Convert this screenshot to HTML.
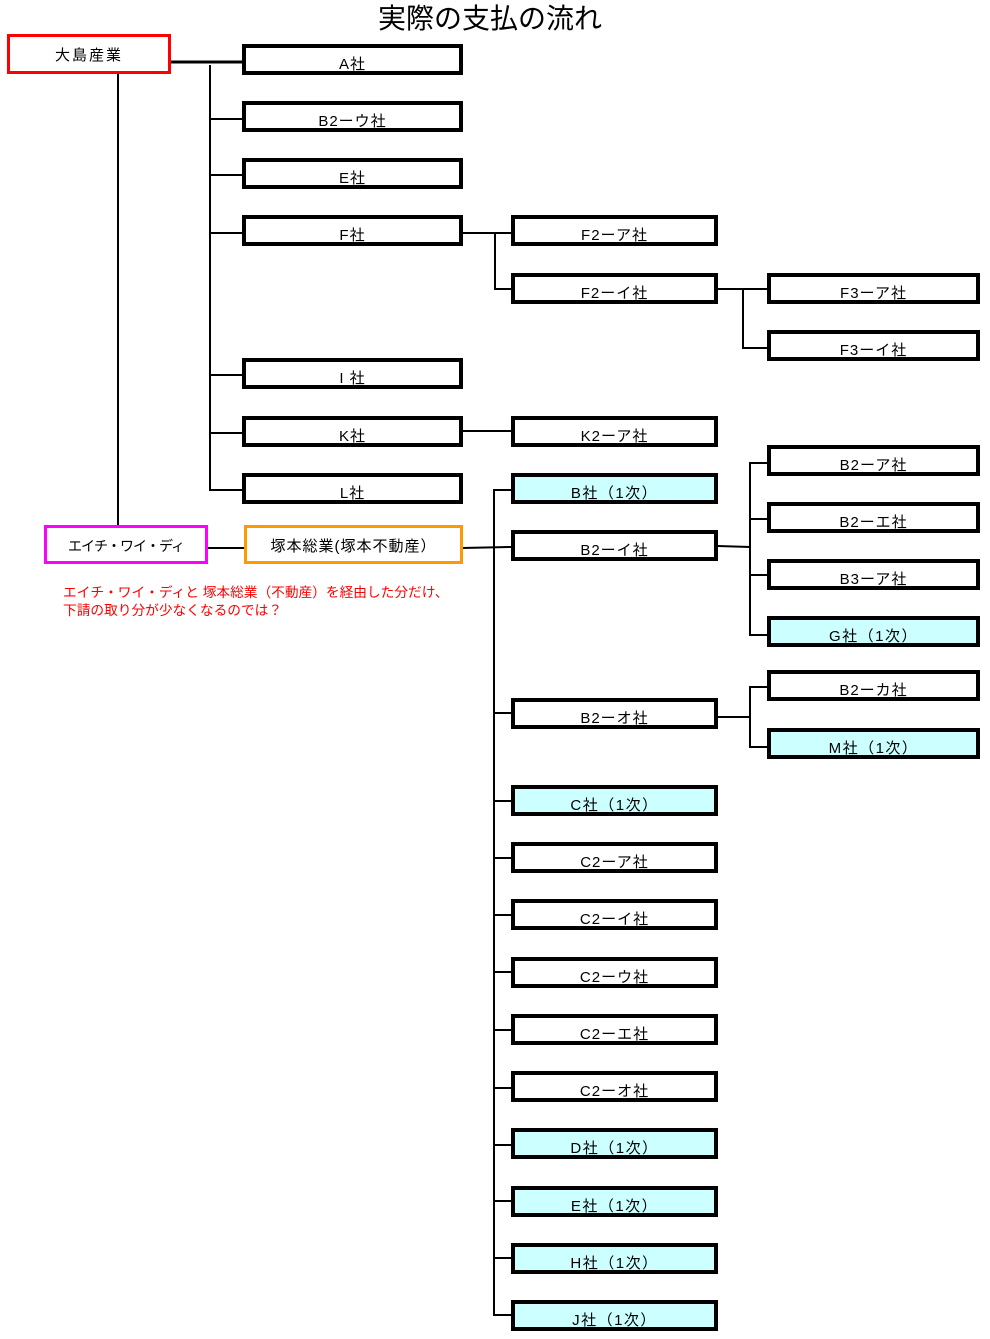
<!DOCTYPE html>
<html>
<head>
<meta charset="utf-8">
<style>
  html,body{margin:0;padding:0;background:#fff;}
  body{width:990px;height:1339px;position:relative;overflow:hidden;
    font-family:"Liberation Sans","Noto Sans CJK JP",sans-serif;color:#000;}
  .b{position:absolute;box-sizing:border-box;border:4px solid #000;background:#fff;
    text-align:center;font-size:15px;line-height:15px;padding-top:9px;white-space:nowrap;letter-spacing:1px;}
  .c1{left:242px;width:221px;height:31px;}
  .c2{left:511px;width:207px;height:31px;}
  .c3{left:767px;width:213px;height:31px;}
  .cy{background:#ccffff;letter-spacing:1.5px;}
  .title{position:absolute;left:370px;width:240px;top:3px;text-align:center;
    font-size:28px;line-height:28px;font-family:"Noto Sans CJK JP","Liberation Sans",sans-serif;white-space:nowrap;}
  .note{position:absolute;left:63px;top:584px;color:#ff0000;font-size:13.7px;line-height:18px;white-space:nowrap;}
  svg{position:absolute;left:0;top:0;}
</style>
</head>
<body>
<svg width="990" height="1339" viewBox="0 0 990 1339">
  <g stroke="#000" stroke-width="2" fill="none">
    <line x1="171" y1="62" x2="242" y2="62" stroke-width="3"/>
    <polyline points="210,65 210,490 242,490"/>
    <line x1="210" y1="119" x2="242" y2="119"/>
    <line x1="210" y1="175" x2="242" y2="175"/>
    <line x1="210" y1="233" x2="242" y2="233"/>
    <line x1="210" y1="375" x2="242" y2="375"/>
    <line x1="210" y1="433" x2="242" y2="433"/>
    <line x1="118" y1="74" x2="118" y2="525"/>
    <line x1="208" y1="548" x2="245" y2="548"/>
    <line x1="462" y1="548" x2="511" y2="547"/>
    <polyline points="511,490 494,490 494,1315 511,1315"/>
    <line x1="494" y1="713" x2="511" y2="713"/>
    <line x1="494" y1="801" x2="511" y2="801"/>
    <line x1="494" y1="858" x2="511" y2="858"/>
    <line x1="494" y1="915" x2="511" y2="915"/>
    <line x1="494" y1="972" x2="511" y2="972"/>
    <line x1="494" y1="1030" x2="511" y2="1030"/>
    <line x1="494" y1="1088" x2="511" y2="1088"/>
    <line x1="494" y1="1145" x2="511" y2="1145"/>
    <line x1="494" y1="1201" x2="511" y2="1201"/>
    <line x1="494" y1="1258" x2="511" y2="1258"/>
    <line x1="463" y1="233" x2="511" y2="233"/>
    <polyline points="495,233 495,289 511,289"/>
    <line x1="718" y1="289" x2="767" y2="289"/>
    <polyline points="743,289 743,348 767,348"/>
    <line x1="463" y1="431" x2="511" y2="431"/>
    <line x1="718" y1="546" x2="750" y2="547"/>
    <polyline points="767,463 750,463 750,635 767,635"/>
    <line x1="750" y1="519" x2="767" y2="519"/>
    <line x1="750" y1="575" x2="767" y2="575"/>
    <line x1="718" y1="717" x2="750" y2="717"/>
    <polyline points="767,687 750,687 750,747 767,747"/>
  </g>
</svg>

<div class="title">実際の支払の流れ</div>

<div class="b" style="left:7px;top:34px;width:164px;height:40px;border:3px solid #ff0000;padding-top:11px;letter-spacing:2px;">大島産業</div>

<div class="b c1" style="top:44px;">A社</div>
<div class="b c1" style="top:101px;">B2ーウ社</div>
<div class="b c1" style="top:158px;">E社</div>
<div class="b c1" style="top:215px;">F社</div>
<div class="b c1" style="top:358px;">I 社</div>
<div class="b c1" style="top:416px;">K社</div>
<div class="b c1" style="top:473px;">L社</div>

<div class="b" style="left:44px;top:525px;width:164px;height:39px;border:3px solid #ff00ff;padding-top:11px;font-size:14px;letter-spacing:-1px;">エイチ・ワイ・ディ</div>
<div class="b" style="left:244px;top:525px;width:219px;height:39px;border:3px solid #ff9900;padding-top:11px;">塚本総業(塚本不動産）</div>

<div class="note">エイチ・ワイ・ディと 塚本総業（不動産）を経由した分だけ、<br>下請の取り分が少なくなるのでは？</div>

<div class="b c2" style="top:215px;">F2ーア社</div>
<div class="b c2" style="top:273px;">F2ーイ社</div>
<div class="b c2" style="top:416px;">K2ーア社</div>
<div class="b c2 cy" style="top:473px;">B社（1次）</div>
<div class="b c2" style="top:530px;">B2ーイ社</div>
<div class="b c2" style="top:698px;">B2ーオ社</div>
<div class="b c2 cy" style="top:785px;">C社（1次）</div>
<div class="b c2" style="top:842px;">C2ーア社</div>
<div class="b c2" style="top:899px;">C2ーイ社</div>
<div class="b c2" style="top:957px;">C2ーウ社</div>
<div class="b c2" style="top:1014px;">C2ーエ社</div>
<div class="b c2" style="top:1071px;">C2ーオ社</div>
<div class="b c2 cy" style="top:1128px;">D社（1次）</div>
<div class="b c2 cy" style="top:1186px;">E社（1次）</div>
<div class="b c2 cy" style="top:1243px;">H社（1次）</div>
<div class="b c2 cy" style="top:1300px;">J社（1次）</div>

<div class="b c3" style="top:273px;">F3ーア社</div>
<div class="b c3" style="top:330px;">F3ーイ社</div>
<div class="b c3" style="top:445px;">B2ーア社</div>
<div class="b c3" style="top:502px;">B2ーエ社</div>
<div class="b c3" style="top:559px;">B3ーア社</div>
<div class="b c3 cy" style="top:616px;">G社（1次）</div>
<div class="b c3" style="top:670px;">B2ーカ社</div>
<div class="b c3 cy" style="top:728px;">M社（1次）</div>
</body>
</html>
